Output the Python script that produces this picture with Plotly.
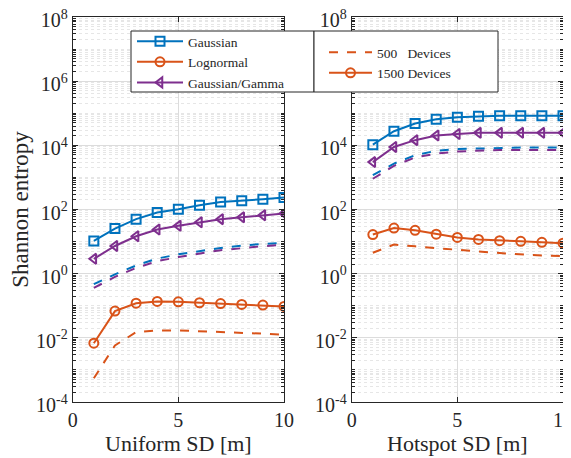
import plotly.graph_objects as go

sd = [1, 2, 3, 4, 5, 6, 7, 8, 9, 10]

# Uniform deployment
uni_gauss_1500 = [10.5, 25.5, 50, 81, 102, 136, 170, 186, 210, 237]
uni_gamma_1500 = [2.9, 7.3, 14.7, 23.7, 31, 40, 50, 57, 66, 75]
uni_logn_1500 = [0.0068, 0.068, 0.12, 0.136, 0.133, 0.124, 0.117, 0.11, 0.105, 0.095]
uni_gauss_500 = [0.47, 0.95, 1.8, 2.95, 4.0, 5.1, 6.3, 7.5, 8.5, 9.1]
uni_gamma_500 = [0.36, 0.79, 1.5, 2.45, 3.3, 4.2, 5.4, 6.2, 7.2, 7.9]
uni_logn_500 = [0.00055, 0.0058, 0.015, 0.017, 0.017, 0.0162, 0.0153, 0.0145, 0.0135, 0.0125]

# Hotspot deployment
hot_gauss_1500 = [10500, 27500, 48000, 65000, 75000, 81000, 83000, 83000, 83000, 83000]
hot_gamma_1500 = [3000, 8900, 14500, 20400, 22600, 24500, 24500, 24500, 24500, 24500]
hot_logn_1500 = [16.6, 26.3, 22.4, 17.0, 13.5, 11.7, 10.7, 10.2, 9.5, 8.9]
hot_gauss_500 = [1170, 2700, 4900, 6800, 7700, 8100, 8300, 8500, 8500, 8500]
hot_gamma_500 = [910, 2300, 4170, 5500, 6460, 6900, 7100, 7200, 7200, 7200]
hot_logn_500 = [4.5, 8.1, 7.1, 6.2, 5.5, 4.9, 4.4, 4.0, 3.7, 3.5]

series_names = ["Gaussian", "Lognormal", "Gaussian/Gamma"]
device_names = ["500   Devices", "1500 Devices"]
y_tick_exps = [-4, -2, 0, 2, 4, 6, 8]
x_ticks = [0, 5, 10]

BLUE = "#0072BD"
ORANGE = "#D95319"
PURPLE = "#7E2F8E"
FONT = "Liberation Serif"
TXT = "#262626"
W, H = 571, 458
OFF = 8  # page body margin in the browser

def px(v):
    return (v - OFF) / W

def py(v):
    return 1 - (v - OFF) / H

fig = go.Figure()

def add_set(xa, ya, g15, gm15, ln15, g5, gm5, ln5):
    for vals, col, sym in [(g15, BLUE, "square-open"), (ln15, ORANGE, "circle-open"),
                           (gm15, PURPLE, "triangle-left-open")]:
        fig.add_trace(go.Scatter(x=sd, y=vals, mode="lines+markers", xaxis=xa, yaxis=ya,
                                 line=dict(color=col, width=2),
                                 marker=dict(symbol=sym, size=9, color=col, line=dict(width=2, color=col)),
                                 showlegend=False))
    for vals, col in [(g5, BLUE), (gm5, PURPLE), (ln5, ORANGE)]:
        fig.add_trace(go.Scatter(x=sd, y=vals, mode="lines", xaxis=xa, yaxis=ya,
                                 line=dict(color=col, width=2, dash="dash"),
                                 showlegend=False))

add_set("x", "y", uni_gauss_1500, uni_gamma_1500, uni_logn_1500, uni_gauss_500, uni_gamma_500, uni_logn_500)
add_set("x2", "y2", hot_gauss_1500, hot_gamma_1500, hot_logn_1500, hot_gauss_500, hot_gamma_500, hot_logn_500)

# legend entries
for name, col, sym in zip(series_names, [BLUE, ORANGE, PURPLE],
                          ["square-open", "circle-open", "triangle-left-open"]):
    fig.add_trace(go.Scatter(x=[None], y=[None], mode="lines+markers", name=name, legend="legend",
                             line=dict(color=col, width=2),
                             marker=dict(symbol=sym, size=9, color=col, line=dict(width=2, color=col))))
fig.add_trace(go.Scatter(x=[None], y=[None], mode="lines", name=device_names[0], legend="legend2",
                         line=dict(color=ORANGE, width=2, dash="dash")))
fig.add_trace(go.Scatter(x=[None], y=[None], mode="lines+markers", name=device_names[1], legend="legend2",
                         line=dict(color=ORANGE, width=2),
                         marker=dict(symbol="circle-open", size=9, color=ORANGE, line=dict(width=2, color=ORANGE))))

minor_vals = []
for e in range(-4, 8):
    for k in range(1, 10):
        v = k * 10.0 ** e
        if k == 1 and e % 2 == 0:
            continue
        minor_vals.append(v)

yt_vals = [10.0 ** e for e in y_tick_exps]
yt_text = ["10<sup>%d</sup>" % e for e in y_tick_exps]

def yaxis_cfg(title=None):
    d = dict(type="log", range=[-4, 8], tickvals=yt_vals, ticktext=yt_text,
             showgrid=True, gridcolor="#dcdcdc", gridwidth=1,
             ticks="inside", ticklen=5, tickcolor="#262626", mirror="allticks",
             showline=True, linecolor="#262626", linewidth=1, zeroline=False,
             tickfont=dict(family=FONT, size=20, color=TXT), automargin=False,
             ticklabeloverflow="allow", ticklabelshift=3,
             minor=dict(tickvals=minor_vals, showgrid=True, gridcolor="#e6e6e6",
                        griddash="dot", gridwidth=1, ticks="inside", ticklen=3,
                        tickcolor="#262626"))
    if title:
        d["title"] = dict(text=title, font=dict(family=FONT, size=23, color=TXT), standoff=5)
    return d

def xaxis_cfg(title):
    return dict(range=[0, 10], tickvals=x_ticks, ticktext=[str(v) for v in x_ticks],
                showgrid=True, gridcolor="#dcdcdc", gridwidth=1,
                ticks="inside", ticklen=5, tickcolor="#262626", mirror="allticks",
                showline=True, linecolor="#262626", linewidth=1, zeroline=False,
                tickfont=dict(family=FONT, size=20, color=TXT), automargin=False,
                ticklabeloverflow="allow",
                title=dict(text=title, font=dict(family=FONT, size=22, color=TXT), standoff=0))

xa = xaxis_cfg("Uniform SD [m]"); xa.update(domain=[px(72.7), px(284)], anchor="y")
xb = xaxis_cfg("Hotspot SD [m]"); xb.update(domain=[px(351.7), px(563)], anchor="y2")
ya = yaxis_cfg("Shannon entropy"); ya.update(domain=[py(402), py(17)], anchor="x")
yb = yaxis_cfg(); yb.update(domain=[py(402), py(17)], anchor="x2")

fig.update_layout(
    width=W, height=H, margin=dict(l=0, r=0, t=0, b=0),
    paper_bgcolor="white", plot_bgcolor="white",
    xaxis=xa, yaxis=ya, xaxis2=xb, yaxis2=yb,
    font=dict(family=FONT, color=TXT),
    legend=dict(x=px(132), y=py(26), xanchor="left", yanchor="top",
                bgcolor="rgba(0,0,0,0)", borderwidth=0, font=dict(family=FONT, size=13.5, color=TXT),
                tracegroupgap=0, itemwidth=46),
    legend2=dict(x=px(324), y=py(37), xanchor="left", yanchor="top",
                 bgcolor="rgba(0,0,0,0)", borderwidth=0, font=dict(family=FONT, size=13.5, color=TXT),
                 tracegroupgap=0, itemwidth=43),
    shapes=[
        dict(type="rect", xref="paper", yref="paper", x0=px(131), x1=px(314),
             y0=py(92), y1=py(31), line=dict(color="#262626", width=1),
             fillcolor="white", layer="above"),
        dict(type="rect", xref="paper", yref="paper", x0=px(314), x1=px(498),
             y0=py(92), y1=py(31), line=dict(color="#262626", width=1),
             fillcolor="white", layer="above"),
    ],
)

fig.write_html("out.html")
